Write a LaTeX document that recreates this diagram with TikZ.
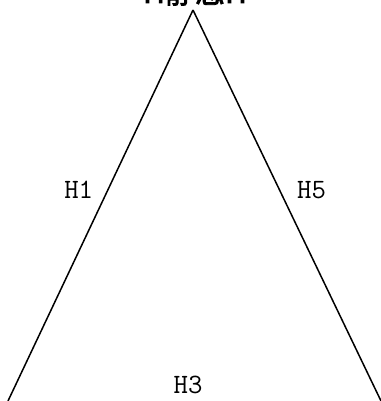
\documentclass[tikz,border=0pt]{standalone}
\usepackage{fontspec}
\newfontfamily\cjkfont{Noto Sans CJK SC}[AutoFakeBold=3]
\usetikzlibrary{positioning}

\begin{document}
\begin{tikzpicture}[
  x=1pt, y=1pt,
  edge/.style={draw=black, line width=1.5pt},
  tag/.style={font=\ttfamily\fontsize{28}{28}\selectfont, inner sep=2pt},
  heading/.style={font=\cjkfont\bfseries\fontsize{30}{30}\selectfont, anchor=base}
]
\useasboundingbox (0,0) rectangle (380,401);

% corners of the triangle
\coordinate (apex) at (193,391);
\coordinate (left) at (8,0);
\coordinate (right) at (381,0);

% the two sides
\draw[edge] (apex) -- node[tag, pos=.46, left=12pt] (h1) {H1} (left);
\draw[edge] (apex) -- node[tag, pos=.46, right=15pt] (h5) {H5} (right);

% base label
\node[tag] (h3) at (188,16) {H3};

% title, cut at the top edge
\node[heading] (title) at (195,398) {H静态H};

\end{tikzpicture}
\end{document}
